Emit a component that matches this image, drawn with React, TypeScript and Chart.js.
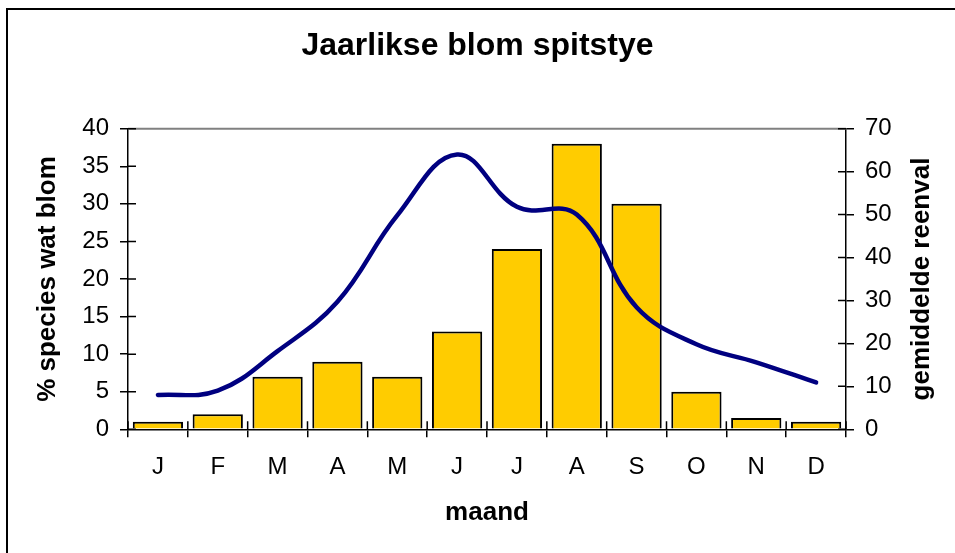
import React, { useEffect, useRef } from "react";
import { Chart, registerables } from "chart.js";

Chart.register(...registerables);

const months = ["J", "F", "M", "A", "M", "J", "J", "A", "S", "O", "N", "D"];
const speciesPct = [1, 2, 7, 9, 7, 13, 24, 38, 30, 5, 1.5, 1];
const rainfall = [8, 9, 18.2, 29.7, 49.8, 64, 51.8, 50, 28.4, 19.8, 15.6, 10.9];
const leftTicks = { min: 0, max: 40, step: 5 };
const rightTicks = { min: 0, max: 70, step: 10 };

const titleText = "Jaarlikse blom spitstye";
const xTitle = "maand";
const leftTitle = "% species wat blom";
const rightTitle = "gemiddelde reenval";

const FONT = "'Liberation Sans', Arial, Helvetica, sans-serif";

const decorPlugin = {
  id: "decor",
  beforeDraw(chart: any) {
    const ctx = chart.ctx;
    ctx.save();
    ctx.fillStyle = "#fff";
    ctx.fillRect(0, 0, chart.width, chart.height);
    ctx.fillStyle = "#000";
    ctx.fillRect(6, 8, chart.width - 6, 2);
    ctx.fillRect(6, 8, 2, chart.height - 8);
    ctx.restore();
  },
  afterDraw(chart: any) {
    const ctx = chart.ctx;
    const ca = chart.chartArea;
    const x = chart.scales.x;
    const yl = chart.scales.y;
    const yr = chart.scales.y1;
    ctx.save();
    ctx.strokeStyle = "#808080";
    ctx.lineWidth = 2;
    ctx.beginPath();
    ctx.moveTo(ca.left, ca.top);
    ctx.lineTo(ca.right, ca.top);
    ctx.stroke();
    ctx.strokeStyle = "#000";
    ctx.lineWidth = 1.5;
    ctx.beginPath();
    yl.ticks.forEach((t: any) => {
      const py = yl.getPixelForValue(t.value);
      ctx.moveTo(ca.left, py);
      ctx.lineTo(ca.left + 8, py);
    });
    yr.ticks.forEach((t: any) => {
      const py = yr.getPixelForValue(t.value);
      ctx.moveTo(ca.right - 8, py);
      ctx.lineTo(ca.right, py);
    });
    for (let i = 0; i <= months.length; i++) {
      const px = x.getPixelForValue(i - 0.5);
      ctx.moveTo(px, ca.bottom - 8);
      ctx.lineTo(px, ca.bottom);
    }
    ctx.stroke();
    ctx.fillStyle = "#000";
    ctx.font = `bold 26px ${FONT}`;
    ctx.textAlign = "center";
    ctx.textBaseline = "middle";
    ctx.translate(922, (ca.top + ca.bottom) / 2);
    ctx.rotate(-Math.PI / 2);
    ctx.fillText(rightTitle, 0, 0);
    ctx.restore();
  },
};

export default function App() {
  const ref = useRef<HTMLCanvasElement>(null);
  useEffect(() => {
    if (!ref.current) return;
    const chart = new Chart(ref.current, {
      type: "bar",
      data: {
        labels: months,
        datasets: [
          {
            type: "line",
            label: rightTitle,
            data: rainfall,
            yAxisID: "y1",
            borderColor: "#000080",
            borderWidth: 4.5,
            borderCapStyle: "round",
            borderJoinStyle: "round",
            pointRadius: 0,
            tension: 0.4,
            fill: false,
            order: 0,
          } as any,
          {
            type: "bar",
            label: leftTitle,
            data: speciesPct,
            yAxisID: "y",
            backgroundColor: "#FFCC00",
            borderColor: "#000",
            borderWidth: 2,
            barPercentage: 0.84,
            categoryPercentage: 1,
            order: 1,
          },
        ],
      },
      options: {
        responsive: false,
        animation: false,
        events: [],
        layout: { padding: { left: 0, right: 0, top: 0, bottom: 20.7 } },
        plugins: {
          legend: { display: false },
          tooltip: { enabled: false },
          title: {
            display: true,
            text: titleText,
            color: "#000",
            font: { family: FONT, size: 32, weight: "bold" },
            padding: { top: 27.4, bottom: 62.9 },
          },
        },
        scales: {
          x: {
            offset: true,
            grid: {
              display: true,
              drawOnChartArea: false,
              drawTicks: true,
              tickLength: 8,
              color: "#000",
              lineWidth: 1.5,
              offset: true,
            },
            border: { display: true, color: "#000", width: 1.5 },
            ticks: {
              color: "#000",
              font: { family: FONT, size: 24 },
              padding: 16,
              maxRotation: 0,
              autoSkip: false,
            },
            title: {
              display: true,
              text: xTitle,
              color: "#000",
              font: { family: FONT, size: 26, weight: "bold" },
              padding: { top: 15, bottom: 4 },
            },
            afterFit(scale: any) {
              scale.height = 103;
            },
          },
          y: {
            position: "left",
            min: leftTicks.min,
            max: leftTicks.max,
            grid: {
              display: true,
              drawOnChartArea: false,
              drawTicks: true,
              tickLength: 8,
              color: "#000",
              lineWidth: 1.5,
            },
            border: { display: true, color: "#000", width: 1.5 },
            ticks: {
              stepSize: leftTicks.step,
              color: "#000",
              font: { family: FONT, size: 24 },
              padding: 11,
            },
            title: {
              display: true,
              text: leftTitle,
              color: "#000",
              font: { family: FONT, size: 26, weight: "bold" },
              padding: { top: 32.4, bottom: 0 },
            },
            afterFit(scale: any) {
              scale.width = 128;
            },
          },
          y1: {
            position: "right",
            min: rightTicks.min,
            max: rightTicks.max,
            grid: {
              display: true,
              drawOnChartArea: false,
              drawTicks: true,
              tickLength: 8,
              color: "#000",
              lineWidth: 1.5,
            },
            border: { display: true, color: "#000", width: 1.5 },
            ticks: {
              stepSize: rightTicks.step,
              color: "#000",
              font: { family: FONT, size: 24 },
              padding: 11,
            },
            afterFit(scale: any) {
              scale.width = 109;
            },
          },
        },
      } as any,
      plugins: [decorPlugin],
    });
    return () => chart.destroy();
  }, []);
  return (
    <div style={{ position: "fixed", left: 0, top: 0, width: 955, height: 553, background: "#fff" }}>
      <canvas ref={ref} width={955} height={553} style={{ display: "block" }} />
    </div>
  );
}
